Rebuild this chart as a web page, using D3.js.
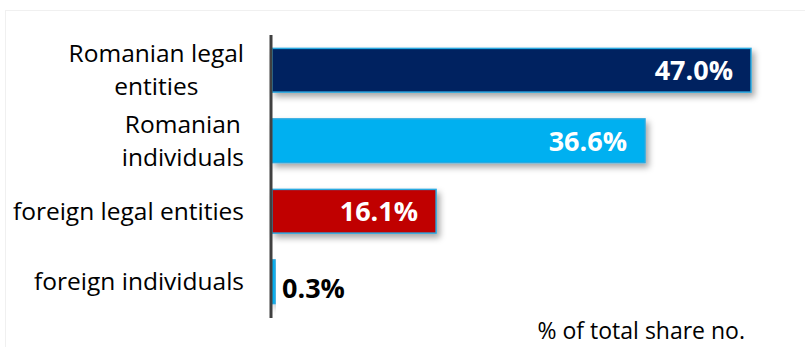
<!DOCTYPE html>
<html><head><meta charset="utf-8">
<script src="https://cdn.jsdelivr.net/npm/d3@7"></script>
<style>body{margin:0;background:#fff}svg{display:block}</style>
</head><body>
<svg id="c" width="805" height="347"></svg>
<script>
const categories = [["Romanian legal","entities"],["Romanian","individuals"],["foreign legal entities"],["foreign individuals"]];
const values = [47.0, 36.6, 16.1, 0.3];
const colors = ["#002060","#00B0F0","#C00000","#00B0F0"];
const valueLabels = ["47.0%","36.6%","16.1%","0.3%"];
const footnote = "% of total share no.";

const svg = d3.select("#c");
const font = "Open Sans, sans-serif";
const defs = svg.append("defs");
const f = defs.append("filter").attr("id","sh").attr("x","-10%").attr("y","-30%").attr("width","130%").attr("height","180%");
f.append("feDropShadow").attr("dx",3).attr("dy",4).attr("stdDeviation",3).attr("flood-color","#000").attr("flood-opacity",0.35);

svg.append("rect").attr("x",5.5).attr("y",10.5).attr("width",800).attr("height",340)
  .attr("fill","none").attr("stroke","#f0f0f0");

const x = d3.scaleLinear().domain([0,47.0]).range([272,751]);
const y = d3.scaleBand().domain(d3.range(values.length)).range([35,317]).paddingInner(0.38).paddingOuter(0.19);

const g = svg.append("g");
g.selectAll("rect.bar").data(values).join("rect").attr("class","bar")
  .attr("x",x(0)).attr("y",(d,i)=>y(i)).attr("width",d=>x(d)-x(0)).attr("height",y.bandwidth())
  .attr("fill",(d,i)=>colors[i]).attr("stroke","#29A9E0").attr("stroke-width",1.5)
  .attr("filter","url(#sh)");

g.selectAll("text.val").data(values).join("text").attr("class","val")
  .attr("x",(d,i)=> i<3 ? x(d)-18 : x(d)+7)
  .attr("y",(d,i)=>y(i)+y.bandwidth()/2 + (i<3?10:16))
  .attr("text-anchor",(d,i)=> i<3 ? "end":"start")
  .attr("font-family",font).attr("font-weight","bold").attr("font-size",27)
  .attr("fill",(d,i)=> i<3 ? "#fff":"#000")
  .text((d,i)=>valueLabels[i]);

svg.append("line").attr("x1",271).attr("x2",271).attr("y1",35).attr("y2",318)
  .attr("stroke","#404040").attr("stroke-width",3);

const lab = svg.selectAll("g.lab").data(categories).join("g").attr("class","lab");
lab.each(function(lines,i){
  const gg = d3.select(this);
  const cy = y(i)+y.bandwidth()/2;
  const lh = 33;
  const t = gg.append("text").attr("font-family",font).attr("font-size",24.5).attr("fill","#000").attr("text-anchor","middle");
  lines.forEach((s,k)=>{
    t.append("tspan").attr("x",0).attr("y",cy + (k-(lines.length-1)/2)*lh + 8.5).text(s);
  });
  const w = t.node().getBBox().width;
  t.attr("transform",`translate(${244 - w/2},0)`);
});

svg.append("text").attr("x",745).attr("y",339).attr("text-anchor","end")
  .attr("font-family",font).attr("font-size",23).attr("fill","#000").text(footnote);
</script>
</body></html>
